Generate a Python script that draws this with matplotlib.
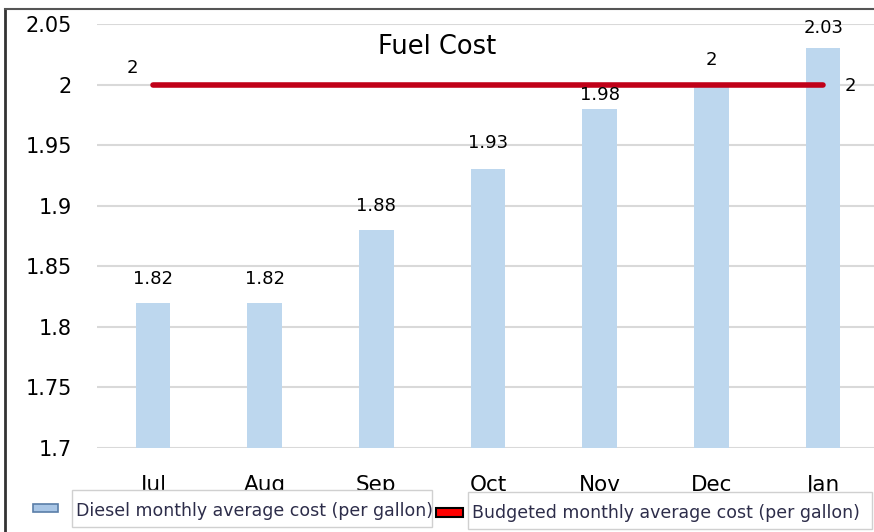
import matplotlib
matplotlib.use("Agg")
import matplotlib.pyplot as plt
from matplotlib.patches import Rectangle

months = ["Jul", "Aug", "Sep", "Oct", "Nov", "Dec", "Jan"]
diesel = [1.82, 1.82, 1.88, 1.93, 1.98, 2.00, 2.03]
budget = [2, 2, 2, 2, 2, 2, 2]
yticks = [1.7, 1.75, 1.8, 1.85, 1.9, 1.95, 2, 2.05]
ytick_labels = ["1.7", "1.75", "1.8", "1.85", "1.9", "1.95", "2", "2.05"]
label_offsets_px = [24, 24, 24, 26, 14, 25, 20]

W, H = 874, 532
fig = plt.figure(figsize=(W / 100, H / 100), dpi=100)
plt.rcParams['font.family'] = ['DejaVu Sans']
PX = 72 / 100  # points per pixel

def fx(px):
    return px / W

def fy(py):
    return 1 - py / H

ax = fig.add_axes([fx(97), fy(448), fx(879) - fx(97), fy(24) - fy(448)])
x = list(range(len(months)))
ax.bar(x, diesel, width=0.31, color="#bdd7ee", zorder=2)
ax.plot(x, budget, color="#c00018", lw=4, solid_capstyle="round", zorder=3)

ax.set_xlim(-0.5, 6.5)
ax.set_ylim(1.7, 2.05)
ax.set_yticks(yticks)
ax.set_yticklabels(ytick_labels, fontsize=15)
ax.set_xticks(x)
ax.set_xticklabels(months, fontsize=15.5)
ax.tick_params(axis="y", length=0, pad=25 * PX)
ax.tick_params(axis="x", length=0, pad=27 * PX)
ax.grid(axis="y", color="#d9d9d9", lw=1.5, zorder=0)
for s in ax.spines.values():
    s.set_visible(False)
ax.set_axisbelow(True)

for xi, v, off in zip(x, diesel, label_offsets_px):
    ax.annotate("%g" % v, (xi, v), xytext=(0, off * PX), textcoords="offset points",
                ha="center", va="center", fontsize=13)

ax.annotate("%g" % budget[0], (x[0], budget[0]), xytext=(-20 * PX, 17 * PX), textcoords="offset points",
            ha="center", va="center", fontsize=13)
ax.annotate("%g" % budget[-1], (x[-1], budget[-1]), xytext=(27 * PX, -1 * PX), textcoords="offset points",
            ha="center", va="center", fontsize=13)

fig.text(fx(437), fy(47), "Fuel Cost", ha="center", va="center", fontsize=18.5)

# figure border
fig.add_artist(plt.Line2D([fx(5), fx(5)], [fy(9), 0], color="#333333", lw=2, transform=fig.transFigure))
fig.add_artist(plt.Line2D([fx(5), 1], [fy(9), fy(9)], color="#555555", lw=1.5, transform=fig.transFigure))

# legend
fig.add_artist(Rectangle((fx(72), fy(527)), fx(432) - fx(72), fy(490) - fy(527),
                         transform=fig.transFigure, fill=True, facecolor="white",
                         edgecolor="#d0d0d0", lw=1, zorder=5))
fig.add_artist(Rectangle((fx(33), fy(512)), fx(25), fy(504) - fy(512),
                         transform=fig.transFigure, facecolor="#a9c6e6",
                         edgecolor="#5a7ea8", lw=1.2, zorder=6))
fig.text(fx(76), fy(511), "Diesel monthly average cost (per gallon)", ha="left", va="center",
         fontsize=12.5, color="#2d2d4a", zorder=7)
fig.add_artist(Rectangle((fx(468), fy(529)), fx(872) - fx(468), fy(492) - fy(529),
                         transform=fig.transFigure, fill=True, facecolor="white",
                         edgecolor="#d0d0d0", lw=1, zorder=5))
fig.add_artist(Rectangle((fx(436), fy(517)), fx(27), fy(508) - fy(517),
                         transform=fig.transFigure, facecolor="#ff0000",
                         edgecolor="black", lw=1.5, zorder=6))
fig.text(fx(472), fy(513), "Budgeted monthly average cost (per gallon)", ha="left", va="center",
         fontsize=12.5, color="#2d2d4a", zorder=7)

fig.savefig("out.png", dpi=100)
